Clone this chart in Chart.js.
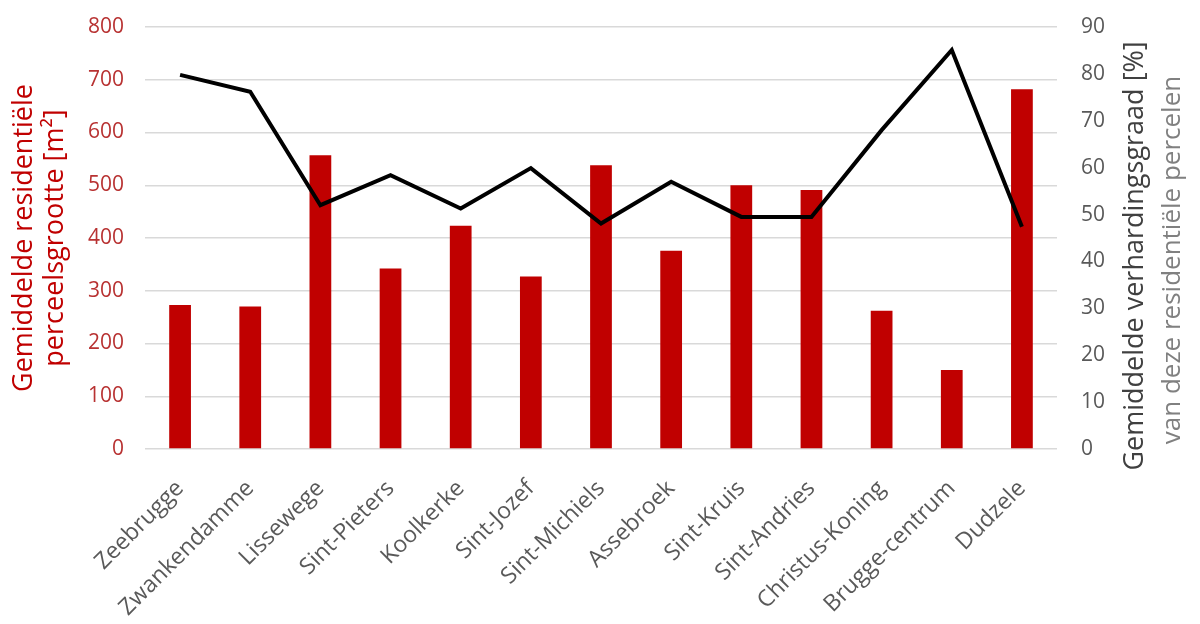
<!DOCTYPE html>
<html>
<head>
<meta charset="utf-8">
<script src="https://cdn.jsdelivr.net/npm/chart.js@4/dist/chart.umd.min.js"></script>
<style>
  html, body { margin: 0; padding: 0; background: #ffffff; }
  #wrap { width: 1200px; height: 624px; position: relative; }
</style>
</head>
<body>
<div id="wrap"><canvas id="chart"></canvas></div>
<script>
// Deelgemeenten van Brugge
const deelgemeenten = [
  'Zeebrugge', 'Zwankendamme', 'Lissewege', 'Sint-Pieters', 'Koolkerke',
  'Sint-Jozef', 'Sint-Michiels', 'Assebroek', 'Sint-Kruis', 'Sint-Andries',
  'Christus-Koning', 'Brugge-centrum', 'Dudzele'
];
// Gemiddelde residentiële perceelsgrootte [m²]
const perceelsgrootte = [273, 270, 557, 342, 423, 327, 538, 376, 500, 491, 262, 150, 682];
// Gemiddelde verhardingsgraad [%]
const verhardingsgraad = [79.8, 76.2, 52.0, 58.4, 51.3, 59.9, 48.1, 57.0, 49.5, 49.5, 68.0, 85.1, 47.4];

const titelLinks = ['Gemiddelde residentiële', 'perceelsgrootte [m²]'];
const titelRechts = ['Gemiddelde verhardingsgraad [%]', 'van deze residentiële percelen'];

const FONT = "'Open Sans', 'Noto Sans', sans-serif";
const ROOD = '#c00000';

// Rechtse astitel, van onder naar boven gelezen, in twee kleuren
const rechtseTitel = {
  id: 'rechtseTitel',
  afterDraw(chart) {
    const { ctx, chartArea } = chart;
    const cy = (chartArea.top + chartArea.bottom) / 2;
    const regels = [
      { text: titelRechts[0], x: chartArea.right + 78, y: cy + 18, color: '#404040', size: 27 },
      { text: titelRechts[1], x: chartArea.right + 116, y: cy + 22, color: '#808080', size: 26 }
    ];
    regels.forEach(r => {
      ctx.save();
      ctx.translate(r.x, r.y);
      ctx.rotate(-Math.PI / 2);
      ctx.font = r.size + 'px ' + FONT;
      ctx.fillStyle = r.color;
      ctx.textAlign = 'center';
      ctx.textBaseline = 'middle';
      ctx.fillText(r.text, 0, 0);
      ctx.restore();
    });
  }
};

// de verticale assen vragen geen extra ruimte boven of onder het plotvlak
function geenVerticalePadding(scale) {
  scale.paddingTop = 0;
  scale.paddingBottom = 0;
}

new Chart(document.getElementById('chart'), {
  data: {
    labels: deelgemeenten,
    datasets: [
      {
        type: 'line',
        data: verhardingsgraad,
        yAxisID: 'y1',
        borderColor: '#000000',
        borderWidth: 4,
        pointRadius: 0,
        tension: 0,
        order: 0
      },
      {
        type: 'bar',
        data: perceelsgrootte,
        yAxisID: 'y',
        backgroundColor: ROOD,
        barPercentage: 0.31,
        categoryPercentage: 1,
        order: 1
      }
    ]
  },
  options: {
    responsive: true,
    maintainAspectRatio: false,
    animation: false,
    layout: { padding: { top: 27, left: 9, right: 0, bottom: 0 } },
    plugins: {
      legend: { display: false },
      tooltip: { enabled: false }
    },
    scales: {
      x: {
        grid: { display: false },
        border: { display: false },
        ticks: {
          color: '#595959',
          font: { family: FONT, size: 23 },
          maxRotation: 45,
          minRotation: 45,
          padding: 18
        },
        afterFit(scale) {
          scale.height = 175;
          scale.paddingTop = 0;
        }
      },
      y: {
        position: 'left',
        min: 0,
        max: 800,
        ticks: {
          stepSize: 100,
          color: '#b83232',
          font: { family: FONT, size: 21 },
          padding: 21
        },
        grid: { color: '#d9d9d9', lineWidth: 1.5, drawTicks: false },
        border: { display: false },
        title: {
          display: true,
          text: titelLinks,
          color: ROOD,
          font: { family: FONT, size: 27, lineHeight: 1.15 },
          padding: { top: 0, bottom: 4 }
        },
        afterFit(scale) {
          scale.width = 136;
          geenVerticalePadding(scale);
        }
      },
      y1: {
        position: 'right',
        min: 0,
        max: 90,
        ticks: {
          stepSize: 10,
          color: '#595959',
          font: { family: FONT, size: 21 },
          padding: 24
        },
        grid: { display: false, drawTicks: false },
        border: { display: false },
        afterFit(scale) {
          scale.width = 143;
          geenVerticalePadding(scale);
        }
      }
    }
  },
  plugins: [rechtseTitel]
});
</script>
</body>
</html>
